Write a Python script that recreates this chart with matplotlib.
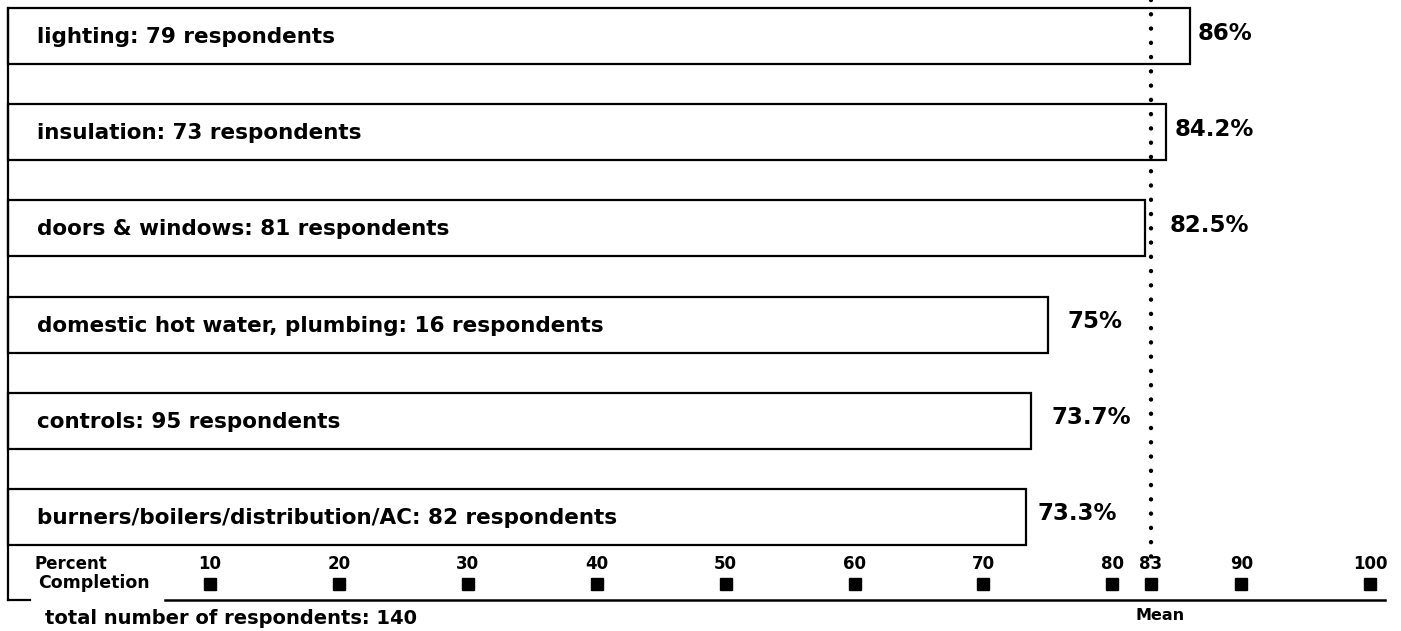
import matplotlib
matplotlib.use("Agg")
import matplotlib.pyplot as plt
from matplotlib.lines import Line2D

# ---------------- data ----------------
categories = [
    "lighting: 79 respondents",
    "insulation: 73 respondents",
    "doors & windows: 81 respondents",
    "domestic hot water, plumbing: 16 respondents",
    "controls: 95 respondents",
    "burners/boilers/distribution/AC: 82 respondents",
]
completion = [86.0, 84.2, 82.5, 75.0, 73.7, 73.3]
value_labels = ["86%", "84.2%", "82.5%", "75%", "73.7%", "73.3%"]
scale_ticks = [10, 20, 30, 40, 50, 60, 70, 80, 90, 100]
mean_value = 83
footnote = "total number of respondents: 140"

# ---------------- layout (pixel-based) ----------------
W, H = 1401, 631
PX0 = 81.1      # pixel x of 0%
PXU = 12.89     # pixels per percent unit

fig = plt.figure(figsize=(W / 100, H / 100), dpi=100)
ax = fig.add_axes([0, 0, 1, 1])
ax.set_xlim(-PX0 / PXU, (W - PX0) / PXU)
ax.set_ylim(H, 0)
ax.axis("off")

def px2v(px):
    return (px - PX0) / PXU

bar_left = px2v(8)
bar_h = 56
centers = [36 + 96.2 * i for i in range(len(categories))]
label_offsets_px = [8, 8, 19, 20, 20, 12]

FONT = "DejaVu Sans"

# bars
ax.barh(centers, [v - bar_left for v in completion], left=bar_left, height=bar_h,
        facecolor="white", edgecolor="black", linewidth=1.6, zorder=2)

# left frame line and short bottom dash
ax.plot([bar_left, bar_left], [8, 600], color="black", lw=1.6, zorder=3)
ax.plot([bar_left, px2v(30)], [600, 600], color="black", lw=1.6, zorder=3)

# category labels inside bars
for c, lab in zip(centers, categories):
    ax.text(px2v(37), c + 1, lab, ha="left", va="center", fontsize=15.5,
            fontweight="bold", family=FONT, color="black", zorder=4)

# value labels
for c, v, lab, off in zip(centers, completion, value_labels, label_offsets_px):
    base = mean_value if v >= mean_value - 1 else v
    base = max(base, v)
    ax.annotate(lab, xy=(base, c - 3), xytext=(off * 0.72, 0), textcoords="offset points",
                ha="left", va="center", fontsize=16.5, fontweight="bold",
                family=FONT, color="black", zorder=4)

# mean dotted line
ax.add_line(Line2D([mean_value, mean_value], [0, 557], color="black", lw=3.2,
                   linestyle=(0, (0.01, 3.2)), dash_capstyle="round",
                   solid_capstyle="round", zorder=5))

# scale axis line
ax.plot([px2v(165), px2v(1385)], [600, 600], color="black", lw=1.8, zorder=3)

# scale markers and labels
for t in scale_ticks + [mean_value]:
    ax.plot([t], [584], marker="s", markersize=8.6, color="black", zorder=4)
    ax.text(t, 564, str(t), ha="center", va="center", fontsize=12,
            fontweight="heavy", family=FONT, color="black")

ax.text(px2v(35), 564, "Percent", ha="left", va="center", fontsize=12,
        fontweight="heavy", family=FONT)
ax.text(px2v(38), 583, "Completion", ha="left", va="center", fontsize=12.5,
        fontweight="heavy", family=FONT)
ax.text(px2v(1160), 615, "Mean", ha="center", va="center", fontsize=11.5,
        fontweight="heavy", family=FONT)

# footnote at the bottom edge
ax.text(px2v(45), 628, footnote, ha="left", va="bottom", fontsize=14,
        fontweight="bold", family=FONT)

fig.savefig("out.png", dpi=100)
